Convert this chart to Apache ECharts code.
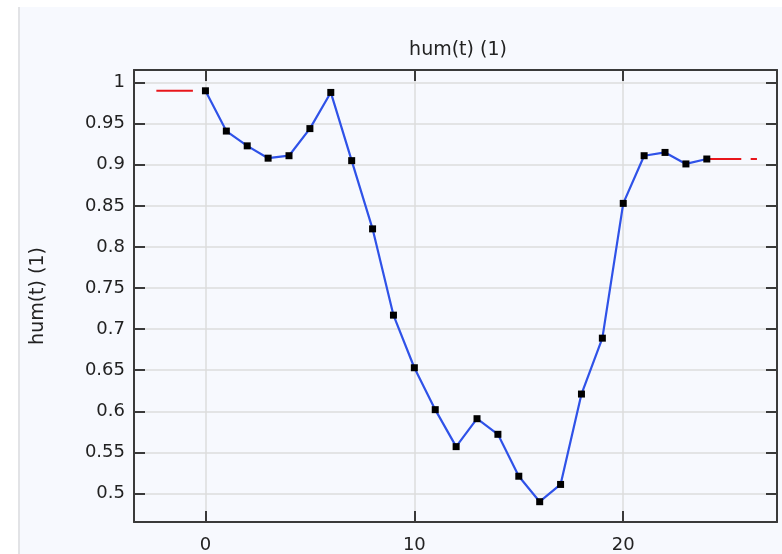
<!DOCTYPE html>
<html>
<head>
<meta charset="utf-8">
<script src="https://cdn.jsdelivr.net/npm/echarts@6/dist/echarts.min.js"></script>
<style>
html,body{margin:0;padding:0;background:#ffffff;overflow:hidden;}
#panel{position:absolute;left:18px;top:7px;width:764px;height:547px;background:#f7f9fe;border-left:2px solid #e2e3e6;}
#chart{position:absolute;left:0;top:0;width:782px;height:554px;}
</style>
</head>
<body>
<div id="panel"></div>
<div id="chart"></div>
<script>
const timeValues = [0,1,2,3,4,5,6,7,8,9,10,11,12,13,14,15,16,17,18,19,20,21,22,23,24];
const humValues = [0.990,0.941,0.923,0.908,0.911,0.944,0.988,0.905,0.822,0.717,0.653,0.602,0.557,0.591,0.572,0.521,0.490,0.511,0.621,0.689,0.853,0.911,0.915,0.901,0.907];
const extrapLeftT = [-2.35,-0.6];
const extrapLeftV = [0.990,0.990];
const extrapRightT = [24,25.65];
const extrapRightV = [0.907,0.907];
const extrapRightT2 = [26.1,26.4];
const extrapRightV2 = [0.907,0.907];
const xTicks = [0,10,20];
const yTicks = [0.5,0.55,0.6,0.65,0.7,0.75,0.8,0.85,0.9,0.95,1];
const titleText = 'hum(t) (1)';
const yName = 'hum(t) (1)';

const pairs = (a,b)=>a.map((v,i)=>[v,b[i]]);
const font = 'DejaVu Sans';
const chart = echarts.init(document.getElementById('chart'), null, {renderer:'canvas', width:782, height:554});
const xMin = -3.42, xMax = 27.36, yMin = 0.4653, yMax = 1.0153;
const frame = {show:true, lineStyle:{color:'#3a3a3a', width:2}};
chart.setOption({
  backgroundColor:'transparent',
  animation:false,
  title:{text:titleText, left:453, textAlign:'center', top:36, textStyle:{fontFamily:font, fontSize:19, fontWeight:'normal', color:'#222'}},
  grid:{left:134, width:643, top:70, height:456, containLabel:false},
  xAxis:[{
    type:'value', min:xMin, max:xMax, position:'bottom',
    axisLine:{onZero:false, ...frame},
    axisTick:{show:true, inside:true, length:11, lineStyle:{color:'#3a3a3a', width:2},
      customValues: xTicks},
    axisLabel:{fontFamily:font, fontSize:18, color:'#222', margin:14, customValues: xTicks, showMinLabel:true, showMaxLabel:true},
    splitLine:{show:true, lineStyle:{color:'#dcdcdc', width:1.5}},
    interval:10
  },{
    type:'value', min:xMin, max:xMax, position:'top',
    axisLine:{onZero:false, ...frame},
    axisTick:{show:true, inside:true, length:11, lineStyle:{color:'#3a3a3a', width:2}, customValues: xTicks},
    axisLabel:{show:false}, splitLine:{show:false}
  }],
  yAxis:[{
    type:'value', min:yMin, max:yMax, position:'left',
    name:yName, nameLocation:'middle', nameGap:86, nameRotate:90,
    nameTextStyle:{fontFamily:font, fontSize:19, color:'#222'},
    axisLine:{onZero:false, ...frame},
    axisTick:{show:true, inside:true, length:11, lineStyle:{color:'#3a3a3a', width:2}, customValues: yTicks},
    axisLabel:{fontFamily:font, fontSize:18, color:'#222', margin:9, customValues: yTicks, formatter:v=>String(+v.toFixed(2))},
    splitLine:{show:true, lineStyle:{color:'#dcdcdc', width:1.5}}
  },{
    type:'value', min:yMin, max:yMax, position:'right',
    axisLine:{onZero:false, ...frame},
    axisTick:{show:true, inside:true, length:11, lineStyle:{color:'#3a3a3a', width:2}, customValues: yTicks},
    axisLabel:{show:false}, splitLine:{show:false}
  }],
  series:[
    {type:'line', data:pairs(extrapLeftT,extrapLeftV), symbol:'none', lineStyle:{color:'#e8161b', width:2}, z:2},
    {type:'line', data:pairs(extrapRightT,extrapRightV), symbol:'none', lineStyle:{color:'#e8161b', width:2}, z:2},
    {type:'line', data:pairs(extrapRightT2,extrapRightV2), symbol:'none', lineStyle:{color:'#e8161b', width:2}, z:2},
    {type:'line', data:pairs(timeValues,humValues), symbol:'rect', symbolSize:7,
      itemStyle:{color:'#000'}, lineStyle:{color:'#2f52e8', width:2.2}, z:3}
  ]
});
</script>
</body>
</html>
